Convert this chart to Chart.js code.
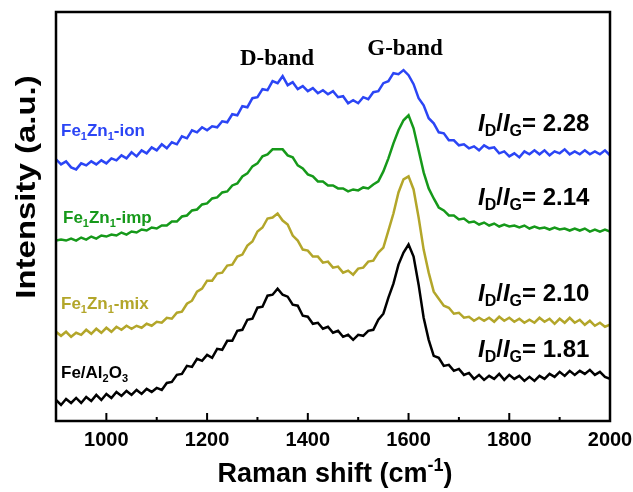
<!DOCTYPE html>
<html>
<head>
<meta charset="utf-8">
<script src="https://cdn.jsdelivr.net/npm/chart.js@4.4.0/dist/chart.umd.min.js"></script>
<style>
  html, body { margin: 0; padding: 0; background: #fff; }
  #wrap { width: 633px; height: 492px; position: relative; }
</style>
</head>
<body>
<div id="wrap"><canvas id="raman-chart"></canvas></div>
<script>
// Raman shift (cm-1)
const ramanShift = [
  900, 910, 920, 930, 940, 950, 960, 970, 980, 990,
  1000, 1010, 1020, 1030, 1040, 1050, 1060, 1070, 1080, 1090,
  1100, 1110, 1120, 1130, 1140, 1150, 1160, 1170, 1180, 1190,
  1200, 1210, 1220, 1230, 1240, 1250, 1260, 1270, 1280, 1290,
  1300, 1310, 1320, 1330, 1340, 1350, 1360, 1370, 1380, 1390,
  1400, 1410, 1420, 1430, 1440, 1450, 1460, 1470, 1480, 1490,
  1500, 1510, 1520, 1530, 1540, 1550, 1560, 1570, 1580, 1590,
  1600, 1610, 1620, 1630, 1640, 1650, 1660, 1670, 1680, 1690,
  1700, 1710, 1720, 1730, 1740, 1750, 1760, 1770, 1780, 1790,
  1800, 1810, 1820, 1830, 1840, 1850, 1860, 1870, 1880, 1890,
  1900, 1910, 1920, 1930, 1940, 1950, 1960, 1970, 1980, 1990,
  2000
];

// stacked intensities (a.u., offset already applied)
const ionIntensity = [
  261, 256, 259, 253, 251, 257, 255, 259, 256, 260,
  257, 262, 260, 265, 262, 268, 264, 270, 267, 273,
  270, 276, 272, 278, 276, 284, 282, 290, 288, 293,
  290, 294, 293, 299, 298, 306, 305, 314, 313, 322,
  323, 331, 330, 339, 337, 344, 335, 338, 331, 334,
  329, 332, 327, 330, 326, 329, 323, 324, 317, 320,
  317, 323, 321, 328, 329, 337, 339, 347, 346, 350,
  345, 336, 322, 315, 302, 297, 288, 287, 280, 280,
  275, 276, 272, 274, 270, 275, 272, 273, 267, 269,
  264, 267, 263, 269, 266, 270, 266, 270, 265, 269,
  267, 271, 266, 269, 266, 270, 266, 269, 266, 270,
  265
];
const impIntensity = [
  180, 181, 180, 182, 180, 183, 181, 184, 182, 185,
  184, 186, 185, 188, 186, 189, 188, 191, 190, 193,
  192, 195, 195, 199, 199, 204, 205, 210, 211, 216,
  217, 222, 223, 228, 229, 235, 237, 244, 247, 254,
  257, 264, 266, 271, 271, 271, 265, 263, 255, 252,
  246, 244, 239, 239, 235, 235, 232, 232, 229, 231,
  230, 233, 232, 236, 239, 249, 262, 277, 290, 300,
  305, 292, 270, 248, 232, 222, 213, 210, 205, 205,
  201, 202, 198, 199, 196, 198, 195, 197, 194, 196,
  194, 195, 193, 195, 192, 194, 192, 193, 191, 193,
  191, 192, 190, 192, 190, 192, 189, 191, 189, 191,
  189
];
const mixIntensity = [
  89, 85, 89, 84, 88, 86, 91, 87, 92, 88,
  93, 89, 94, 91, 95, 92, 95, 93, 97, 95,
  99, 98, 103, 102, 108, 109, 117, 120, 129, 132,
  140, 140, 147, 148, 155, 156, 164, 166, 175, 179,
  189, 193, 202, 203, 207, 200, 196, 185, 180, 171,
  170, 164, 164, 158, 159, 153, 154, 148, 150, 146,
  152, 153, 159, 160, 168, 173, 190, 207, 228, 241,
  244, 231, 203, 171, 148, 129, 122, 115, 113, 107,
  108, 103, 104, 100, 103, 100, 103, 99, 104, 100,
  103, 99, 102, 98, 101, 98, 103, 99, 102, 97,
  102, 98, 103, 98, 101, 96, 100, 95, 98, 94,
  96
];
const alIntensity = [
  21, 16, 22, 18, 23, 18, 24, 20, 26, 21,
  27, 23, 29, 25, 30, 26, 31, 27, 32, 29,
  33, 31, 38, 39, 46, 47, 55, 54, 62, 60,
  66, 63, 72, 71, 80, 80, 90, 91, 101, 102,
  113, 114, 125, 126, 132, 126, 124, 116, 115, 105,
  104, 97, 98, 92, 94, 88, 90, 84, 86, 81,
  86, 85, 90, 91, 101, 107, 123, 137, 156, 168,
  176, 164, 136, 103, 81, 65, 63, 55, 56, 50,
  52, 46, 48, 42, 46, 41, 45, 42, 47, 41,
  46, 42, 45, 40, 44, 40, 45, 42, 47, 44,
  49, 45, 50, 46, 50, 47, 51, 46, 49, 44,
  42
];

const seriesNames = ['Fe1Zn1-ion', 'Fe1Zn1-imp', 'Fe1Zn1-mix', 'Fe/Al2O3'];
const ratios = [2.28, 2.14, 2.10, 1.81];
const majorTicks = [1000, 1200, 1400, 1600, 1800, 2000];
const minorTicks = [1100, 1300, 1500, 1700, 1900];
const colors = ['#2b45f5', '#16991a', '#b3a62a', '#000000'];

const SANS = '"Liberation Sans", Arial, Helvetica, sans-serif';
const SERIF = '"Liberation Serif", "Times New Roman", serif';

const toXY = (ys) => ramanShift.map((x, i) => ({ x: x, y: ys[i] }));

// split a name so digits become subscripts
function chemParts(name) {
  return name.split(/(\d+)/).filter(s => s.length).map(s => [s, /^\d+$/.test(s) ? 'sub' : 'n']);
}

function partFont(kind, size) {
  if (kind === 'i') return 'italic bold ' + size + 'px ' + SANS;
  if (kind === 'sub' || kind === 'sup') return 'bold ' + Math.round(size * 0.65) + 'px ' + SANS;
  return 'bold ' + size + 'px ' + SANS;
}

function richWidth(ctx, parts, size) {
  let w = 0;
  parts.forEach(p => { ctx.font = partFont(p[1], size); w += ctx.measureText(p[0]).width; });
  return w;
}

function drawRich(ctx, parts, x, y, size, color, align) {
  let cx = x;
  if (align === 'center') cx = x - richWidth(ctx, parts, size) / 2;
  ctx.fillStyle = color;
  ctx.textBaseline = 'alphabetic';
  ctx.textAlign = 'left';
  parts.forEach(p => {
    ctx.font = partFont(p[1], size);
    let dy = 0;
    if (p[1] === 'sub') dy = size * 0.22;
    if (p[1] === 'sup') dy = -size * 0.4;
    ctx.fillText(p[0], cx, y + dy);
    cx += ctx.measureText(p[0]).width;
  });
}

const seriesLabelPos = [[61, 136], [63, 223], [61, 309], [61, 378]];
const ratioLabelPos = [[478, 131], [478, 205], [478, 301], [478, 357]];

const decorations = {
  id: 'decorations',
  afterDraw(chart) {
    const ctx = chart.ctx;
    const area = chart.chartArea;
    const xs = chart.scales.x;
    ctx.save();

    // frame
    ctx.strokeStyle = '#000';
    ctx.lineWidth = 2.5;
    ctx.strokeRect(area.left, area.top, area.right - area.left, area.bottom - area.top);

    // inward ticks on bottom axis
    ctx.lineWidth = 2;
    ctx.beginPath();
    majorTicks.forEach(v => {
      const px = xs.getPixelForValue(v);
      ctx.moveTo(px, area.bottom);
      ctx.lineTo(px, area.bottom - 8);
    });
    minorTicks.forEach(v => {
      const px = xs.getPixelForValue(v);
      ctx.moveTo(px, area.bottom);
      ctx.lineTo(px, area.bottom - 4);
    });
    ctx.stroke();

    // band labels
    ctx.fillStyle = '#000';
    ctx.textAlign = 'center';
    ctx.textBaseline = 'alphabetic';
    ctx.font = 'bold 23px ' + SERIF;
    ctx.fillText('D-band', 277, 65);
    ctx.fillText('G-band', 405, 55);

    // series names
    seriesNames.forEach((n, i) => {
      drawRich(ctx, chemParts(n), seriesLabelPos[i][0], seriesLabelPos[i][1], 17, colors[i], 'left');
    });

    // ID/IG ratios
    ratios.forEach((r, i) => {
      const parts = [['I', 'i'], ['D', 'sub'], ['/', 'n'], ['I', 'i'], ['G', 'sub'], ['= ' + r.toFixed(2), 'n']];
      drawRich(ctx, parts, ratioLabelPos[i][0], ratioLabelPos[i][1], 24, '#000', 'left');
    });

    // axis titles
    drawRich(ctx, [['Raman shift (cm', 'n'], ['-1', 'sup'], [')', 'n']], 335, 482, 27, '#000', 'center');
    ctx.translate(35, 187);
    ctx.rotate(-Math.PI / 2);
    ctx.scale(1.22, 1);
    drawRich(ctx, [['Intensity (a.u.)', 'n']], 0, 0, 27, '#000', 'center');

    ctx.restore();
  }
};

const ramanChart = new Chart(document.getElementById('raman-chart'), {
  type: 'line',
  data: {
    datasets: [ionIntensity, impIntensity, mixIntensity, alIntensity].map((ys, i) => ({
      label: seriesNames[i],
      data: toXY(ys),
      borderColor: colors[i],
      borderWidth: 2.5,
      pointRadius: 0,
      tension: 0,
      fill: false
    }))
  },
  options: {
    responsive: true,
    maintainAspectRatio: false,
    animation: false,
    layout: {
      padding: { left: 56, right: 23, top: 12, bottom: 33 }
    },
    plugins: {
      legend: { display: false },
      tooltip: { enabled: false }
    },
    scales: {
      x: {
        type: 'linear',
        min: 900,
        max: 2000,
        afterBuildTicks: (scale) => { scale.ticks = majorTicks.map(v => ({ value: v })); },
        afterFit: (scale) => { scale.paddingLeft = 0; scale.paddingRight = 0; },
        grid: { display: false, drawTicks: false },
        border: { display: false },
        ticks: {
          padding: 7,
          color: '#000',
          font: { family: SANS, size: 20, weight: 'bold' },
          callback: (v) => String(v)
        }
      },
      y: {
        display: false,
        min: 0,
        max: 408
      }
    }
  },
  plugins: [decorations]
});
</script>
</body>
</html>
